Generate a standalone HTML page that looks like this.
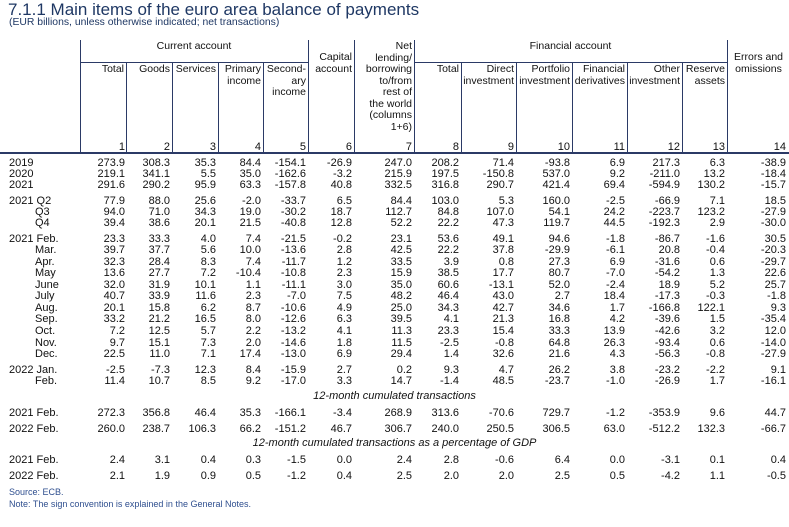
<!DOCTYPE html>
<html><head><meta charset="utf-8"><style>
body{margin:0;width:789px;height:527px;background:#fff;position:relative;overflow:hidden;font-family:"Liberation Sans",Arial,sans-serif;color:#111;}
.a{position:absolute;white-space:nowrap}
.r{position:absolute;left:0;display:flex;font-size:11px;line-height:12px;height:12px}
.r span{display:block;text-align:right;padding-right:2px;box-sizing:border-box}
.r span:first-child{text-align:left;padding-left:9px}
.w0{width:81px}.w1{width:46px}.w2{width:45px}.w3{width:46px}.w4{width:45px}.w5{width:45px}.w6{width:46px}.w7{width:60px}.w8{width:47px}.w9{width:55px}.w10{width:56px}.w11{width:55px}.w12{width:55px}.w13{width:45px}.w14{width:61px}
.v{position:absolute;top:40px;height:112px;width:1px;background:#2b3a66}
.h{position:absolute;height:1px;background:#2b3a66}
.hd{position:absolute;font-size:10.5px;line-height:11.5px;text-align:right;white-space:nowrap}
.it{position:absolute;font-size:11px;font-style:italic}
</style></head><body>
<div class="a" style="left:8px;top:0px;font-size:17px;color:#1f3864">7.1.1 Main items of the euro area balance of payments</div>
<div class="a" style="left:9px;top:17px;font-size:10.4px;color:#1f3864">(EUR billions, unless otherwise indicated; net transactions)</div>

<div class="v" style="left:80px"></div><div class="v" style="left:126px;top:62px;height:90px"></div><div class="v" style="left:172px;top:62px;height:90px"></div><div class="v" style="left:218px;top:62px;height:90px"></div><div class="v" style="left:263px;top:62px;height:90px"></div><div class="v" style="left:308px"></div><div class="v" style="left:354px"></div><div class="v" style="left:414px"></div><div class="v" style="left:461px;top:62px;height:90px"></div><div class="v" style="left:516px;top:62px;height:90px"></div><div class="v" style="left:572px;top:62px;height:90px"></div><div class="v" style="left:627px;top:62px;height:90px"></div><div class="v" style="left:682px;top:62px;height:90px"></div><div class="v" style="left:727px"></div>
<div class="h" style="left:80px;width:228px;top:62px"></div>
<div class="h" style="left:414px;width:313px;top:62px"></div>
<div class="h" style="left:0;width:789px;top:152px;height:1.5px"></div>

<div class="hd" style="left:80px;width:228px;top:41px;text-align:center">Current account</div>
<div class="hd" style="left:414px;width:313px;top:41px;text-align:center">Financial account</div>
<div class="hd" style="left:81px;width:43px;top:64px">Total</div>
<div class="hd" style="left:127px;width:43px;top:64px">Goods</div>
<div class="hd" style="left:173px;width:43px;top:64px">Services</div>
<div class="hd" style="left:219px;width:42px;top:64px">Primary<br>income</div>
<div class="hd" style="left:264px;width:42px;top:64px">Second-<br>ary<br>income</div>
<div class="hd" style="left:309px;width:43px;top:52px">Capital<br>account</div>
<div class="hd" style="left:355px;width:57px;top:41px">Net<br>lending/<br>borrowing<br>to/from<br>rest of<br>the world<br>(columns<br>1+6)</div>
<div class="hd" style="left:415px;width:44px;top:64px">Total</div>
<div class="hd" style="left:462px;width:52px;top:64px">Direct<br>investment</div>
<div class="hd" style="left:517px;width:53px;top:64px">Portfolio<br>investment</div>
<div class="hd" style="left:573px;width:52px;top:64px">Financial<br>derivatives</div>
<div class="hd" style="left:628px;width:52px;top:64px">Other<br>investment</div>
<div class="hd" style="left:683px;width:42px;top:64px">Reserve<br>assets</div>
<div class="hd" style="left:728px;width:61px;top:52px;text-align:center">Errors and<br>omissions</div>

<div class="r" style="top:141px"><span class="w0"></span><span class="w1">1</span><span class="w2">2</span><span class="w3">3</span><span class="w4">4</span><span class="w5">5</span><span class="w6">6</span><span class="w7">7</span><span class="w8">8</span><span class="w9">9</span><span class="w10">10</span><span class="w11">11</span><span class="w12">12</span><span class="w13">13</span><span class="w14">14</span></div>

<div class="r" style="top:157px"><span class="w0">2019</span><span class="w1">273.9</span><span class="w2">308.3</span><span class="w3">35.3</span><span class="w4">84.4</span><span class="w5">-154.1</span><span class="w6">-26.9</span><span class="w7">247.0</span><span class="w8">208.2</span><span class="w9">71.4</span><span class="w10">-93.8</span><span class="w11">6.9</span><span class="w12">217.3</span><span class="w13">6.3</span><span class="w14">-38.9</span></div>
<div class="r" style="top:168px"><span class="w0">2020</span><span class="w1">219.1</span><span class="w2">341.1</span><span class="w3">5.5</span><span class="w4">35.0</span><span class="w5">-162.6</span><span class="w6">-3.2</span><span class="w7">215.9</span><span class="w8">197.5</span><span class="w9">-150.8</span><span class="w10">537.0</span><span class="w11">9.2</span><span class="w12">-211.0</span><span class="w13">13.2</span><span class="w14">-18.4</span></div>
<div class="r" style="top:179px"><span class="w0">2021</span><span class="w1">291.6</span><span class="w2">290.2</span><span class="w3">95.9</span><span class="w4">63.3</span><span class="w5">-157.8</span><span class="w6">40.8</span><span class="w7">332.5</span><span class="w8">316.8</span><span class="w9">290.7</span><span class="w10">421.4</span><span class="w11">69.4</span><span class="w12">-594.9</span><span class="w13">130.2</span><span class="w14">-15.7</span></div>

<div class="r" style="top:195px"><span class="w0">2021 Q2</span><span class="w1">77.9</span><span class="w2">88.0</span><span class="w3">25.6</span><span class="w4">-2.0</span><span class="w5">-33.7</span><span class="w6">6.5</span><span class="w7">84.4</span><span class="w8">103.0</span><span class="w9">5.3</span><span class="w10">160.0</span><span class="w11">-2.5</span><span class="w12">-66.9</span><span class="w13">7.1</span><span class="w14">18.5</span></div>
<div class="r" style="top:206px"><span class="w0" style="padding-left:35px">Q3</span><span class="w1">94.0</span><span class="w2">71.0</span><span class="w3">34.3</span><span class="w4">19.0</span><span class="w5">-30.2</span><span class="w6">18.7</span><span class="w7">112.7</span><span class="w8">84.8</span><span class="w9">107.0</span><span class="w10">54.1</span><span class="w11">24.2</span><span class="w12">-223.7</span><span class="w13">123.2</span><span class="w14">-27.9</span></div>
<div class="r" style="top:217px"><span class="w0" style="padding-left:35px">Q4</span><span class="w1">39.4</span><span class="w2">38.6</span><span class="w3">20.1</span><span class="w4">21.5</span><span class="w5">-40.8</span><span class="w6">12.8</span><span class="w7">52.2</span><span class="w8">22.2</span><span class="w9">47.3</span><span class="w10">119.7</span><span class="w11">44.5</span><span class="w12">-192.3</span><span class="w13">2.9</span><span class="w14">-30.0</span></div>

<div class="r" style="top:233px"><span class="w0">2021 Feb.</span><span class="w1">23.3</span><span class="w2">33.3</span><span class="w3">4.0</span><span class="w4">7.4</span><span class="w5">-21.5</span><span class="w6">-0.2</span><span class="w7">23.1</span><span class="w8">53.6</span><span class="w9">49.1</span><span class="w10">94.6</span><span class="w11">-1.8</span><span class="w12">-86.7</span><span class="w13">-1.6</span><span class="w14">30.5</span></div>
<div class="r" style="top:244px"><span class="w0" style="padding-left:35px">Mar.</span><span class="w1">39.7</span><span class="w2">37.7</span><span class="w3">5.6</span><span class="w4">10.0</span><span class="w5">-13.6</span><span class="w6">2.8</span><span class="w7">42.5</span><span class="w8">22.2</span><span class="w9">37.8</span><span class="w10">-29.9</span><span class="w11">-6.1</span><span class="w12">20.8</span><span class="w13">-0.4</span><span class="w14">-20.3</span></div>
<div class="r" style="top:256px"><span class="w0" style="padding-left:35px">Apr.</span><span class="w1">32.3</span><span class="w2">28.4</span><span class="w3">8.3</span><span class="w4">7.4</span><span class="w5">-11.7</span><span class="w6">1.2</span><span class="w7">33.5</span><span class="w8">3.9</span><span class="w9">0.8</span><span class="w10">27.3</span><span class="w11">6.9</span><span class="w12">-31.6</span><span class="w13">0.6</span><span class="w14">-29.7</span></div>
<div class="r" style="top:267px"><span class="w0" style="padding-left:35px">May</span><span class="w1">13.6</span><span class="w2">27.7</span><span class="w3">7.2</span><span class="w4">-10.4</span><span class="w5">-10.8</span><span class="w6">2.3</span><span class="w7">15.9</span><span class="w8">38.5</span><span class="w9">17.7</span><span class="w10">80.7</span><span class="w11">-7.0</span><span class="w12">-54.2</span><span class="w13">1.3</span><span class="w14">22.6</span></div>
<div class="r" style="top:279px"><span class="w0" style="padding-left:35px">June</span><span class="w1">32.0</span><span class="w2">31.9</span><span class="w3">10.1</span><span class="w4">1.1</span><span class="w5">-11.1</span><span class="w6">3.0</span><span class="w7">35.0</span><span class="w8">60.6</span><span class="w9">-13.1</span><span class="w10">52.0</span><span class="w11">-2.4</span><span class="w12">18.9</span><span class="w13">5.2</span><span class="w14">25.7</span></div>
<div class="r" style="top:290px"><span class="w0" style="padding-left:35px">July</span><span class="w1">40.7</span><span class="w2">33.9</span><span class="w3">11.6</span><span class="w4">2.3</span><span class="w5">-7.0</span><span class="w6">7.5</span><span class="w7">48.2</span><span class="w8">46.4</span><span class="w9">43.0</span><span class="w10">2.7</span><span class="w11">18.4</span><span class="w12">-17.3</span><span class="w13">-0.3</span><span class="w14">-1.8</span></div>
<div class="r" style="top:302px"><span class="w0" style="padding-left:35px">Aug.</span><span class="w1">20.1</span><span class="w2">15.8</span><span class="w3">6.2</span><span class="w4">8.7</span><span class="w5">-10.6</span><span class="w6">4.9</span><span class="w7">25.0</span><span class="w8">34.3</span><span class="w9">42.7</span><span class="w10">34.6</span><span class="w11">1.7</span><span class="w12">-166.8</span><span class="w13">122.1</span><span class="w14">9.3</span></div>
<div class="r" style="top:313px"><span class="w0" style="padding-left:35px">Sep.</span><span class="w1">33.2</span><span class="w2">21.2</span><span class="w3">16.5</span><span class="w4">8.0</span><span class="w5">-12.6</span><span class="w6">6.3</span><span class="w7">39.5</span><span class="w8">4.1</span><span class="w9">21.3</span><span class="w10">16.8</span><span class="w11">4.2</span><span class="w12">-39.6</span><span class="w13">1.5</span><span class="w14">-35.4</span></div>
<div class="r" style="top:325px"><span class="w0" style="padding-left:35px">Oct.</span><span class="w1">7.2</span><span class="w2">12.5</span><span class="w3">5.7</span><span class="w4">2.2</span><span class="w5">-13.2</span><span class="w6">4.1</span><span class="w7">11.3</span><span class="w8">23.3</span><span class="w9">15.4</span><span class="w10">33.3</span><span class="w11">13.9</span><span class="w12">-42.6</span><span class="w13">3.2</span><span class="w14">12.0</span></div>
<div class="r" style="top:337px"><span class="w0" style="padding-left:35px">Nov.</span><span class="w1">9.7</span><span class="w2">15.1</span><span class="w3">7.3</span><span class="w4">2.0</span><span class="w5">-14.6</span><span class="w6">1.8</span><span class="w7">11.5</span><span class="w8">-2.5</span><span class="w9">-0.8</span><span class="w10">64.8</span><span class="w11">26.3</span><span class="w12">-93.4</span><span class="w13">0.6</span><span class="w14">-14.0</span></div>
<div class="r" style="top:348px"><span class="w0" style="padding-left:35px">Dec.</span><span class="w1">22.5</span><span class="w2">11.0</span><span class="w3">7.1</span><span class="w4">17.4</span><span class="w5">-13.0</span><span class="w6">6.9</span><span class="w7">29.4</span><span class="w8">1.4</span><span class="w9">32.6</span><span class="w10">21.6</span><span class="w11">4.3</span><span class="w12">-56.3</span><span class="w13">-0.8</span><span class="w14">-27.9</span></div>

<div class="r" style="top:364px"><span class="w0">2022 Jan.</span><span class="w1">-2.5</span><span class="w2">-7.3</span><span class="w3">12.3</span><span class="w4">8.4</span><span class="w5">-15.9</span><span class="w6">2.7</span><span class="w7">0.2</span><span class="w8">9.3</span><span class="w9">4.7</span><span class="w10">26.2</span><span class="w11">3.8</span><span class="w12">-23.2</span><span class="w13">-2.2</span><span class="w14">9.1</span></div>
<div class="r" style="top:375px"><span class="w0" style="padding-left:35px">Feb.</span><span class="w1">11.4</span><span class="w2">10.7</span><span class="w3">8.5</span><span class="w4">9.2</span><span class="w5">-17.0</span><span class="w6">3.3</span><span class="w7">14.7</span><span class="w8">-1.4</span><span class="w9">48.5</span><span class="w10">-23.7</span><span class="w11">-1.0</span><span class="w12">-26.9</span><span class="w13">1.7</span><span class="w14">-16.1</span></div>

<div class="it" style="left:0;width:789px;text-align:center;top:390px">12-month cumulated transactions</div>
<div class="r" style="top:407px"><span class="w0">2021 Feb.</span><span class="w1">272.3</span><span class="w2">356.8</span><span class="w3">46.4</span><span class="w4">35.3</span><span class="w5">-166.1</span><span class="w6">-3.4</span><span class="w7">268.9</span><span class="w8">313.6</span><span class="w9">-70.6</span><span class="w10">729.7</span><span class="w11">-1.2</span><span class="w12">-353.9</span><span class="w13">9.6</span><span class="w14">44.7</span></div>
<div class="r" style="top:423px"><span class="w0">2022 Feb.</span><span class="w1">260.0</span><span class="w2">238.7</span><span class="w3">106.3</span><span class="w4">66.2</span><span class="w5">-151.2</span><span class="w6">46.7</span><span class="w7">306.7</span><span class="w8">240.0</span><span class="w9">250.5</span><span class="w10">306.5</span><span class="w11">63.0</span><span class="w12">-512.2</span><span class="w13">132.3</span><span class="w14">-66.7</span></div>
<div class="it" style="left:0;width:789px;text-align:center;top:437px">12-month cumulated transactions as a percentage of GDP</div>
<div class="r" style="top:454px"><span class="w0">2021 Feb.</span><span class="w1">2.4</span><span class="w2">3.1</span><span class="w3">0.4</span><span class="w4">0.3</span><span class="w5">-1.5</span><span class="w6">0.0</span><span class="w7">2.4</span><span class="w8">2.8</span><span class="w9">-0.6</span><span class="w10">6.4</span><span class="w11">0.0</span><span class="w12">-3.1</span><span class="w13">0.1</span><span class="w14">0.4</span></div>
<div class="r" style="top:470px"><span class="w0">2022 Feb.</span><span class="w1">2.1</span><span class="w2">1.9</span><span class="w3">0.9</span><span class="w4">0.5</span><span class="w5">-1.2</span><span class="w6">0.4</span><span class="w7">2.5</span><span class="w8">2.0</span><span class="w9">2.0</span><span class="w10">2.5</span><span class="w11">0.5</span><span class="w12">-4.2</span><span class="w13">1.1</span><span class="w14">-0.5</span></div>

<div class="a" style="left:9px;top:487px;font-size:9px;color:#2f4f8f">Source: ECB.</div>
<div class="a" style="left:9px;top:499px;font-size:9px;color:#2f4f8f">Note: The sign convention is explained in the General Notes.</div>
</body></html>
